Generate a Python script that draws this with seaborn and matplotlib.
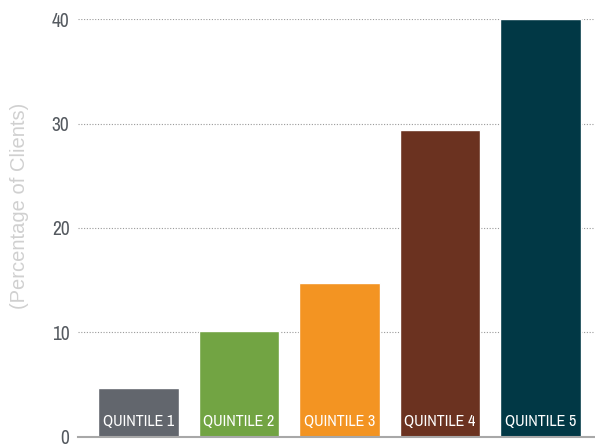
import pandas as pd
import matplotlib.pyplot as plt
import seaborn as sns
from matplotlib import font_manager

# data
quintiles = ['QUINTILE 1', 'QUINTILE 2', 'QUINTILE 3', 'QUINTILE 4', 'QUINTILE 5']
percent_clients = [4.7, 10.1, 14.7, 29.4, 40.0]
bar_colors = ['#62666d', '#72a443', '#f39422', '#6b3220', '#013845']
y_ticks = [0, 10, 20, 30, 40]

dados = pd.DataFrame({'quintile': quintiles, 'percent': percent_clients})

sns.set_style('white')

# condensed font if there is one, otherwise Roboto (narrower than DejaVu)
nomes = {f.name for f in font_manager.fontManager.ttflist}
condensada = 'Roboto'
tam = 10.5
for nome in sorted(nomes):
    if 'Condensed' in nome or 'Narrow' in nome:
        condensada = nome
        tam = 11.5
        break

fig = plt.figure(figsize=(5.95, 4.44), dpi=100)
ax = fig.add_axes([0.131, 0.016, 0.869, 0.941])

sns.barplot(data=dados, x='quintile', y='percent', hue='quintile',
            palette=bar_colors, legend=False, width=0.8, saturation=1,
            ax=ax)

ax.set_ylim(0, 40)
ax.set_xlim(-0.6, 4.54)
ax.set_yticks(y_ticks)
ax.set_yticklabels([str(t) for t in y_ticks], family=condensada,
                   fontsize=14, color='#555a60')
ax.tick_params(axis='y', length=0, pad=6)
ax.set_xticks([])
ax.set_xlabel('')
ax.set_ylabel('(Percentage of Clients)', color='#d0d0d0', fontsize=14.5,
              family='Liberation Sans')
ax.yaxis.set_label_coords(-0.095, 0.553)

ax.yaxis.grid(True, linestyle=(0, (1, 1.5)), color='#9a9a9a', linewidth=0.8)
ax.set_axisbelow(True)

for lado in ['top', 'right', 'left']:
    ax.spines[lado].set_visible(False)
ax.spines['bottom'].set_color('#a8a8a8')
ax.spines['bottom'].set_linewidth(1.5)

# labels inside the bars
for i, nome in enumerate(quintiles):
    ax.text(i, 1.5, nome, ha='center', va='center', color='white',
            family=condensada, fontsize=tam)

fig.savefig('out.png', dpi=100)
